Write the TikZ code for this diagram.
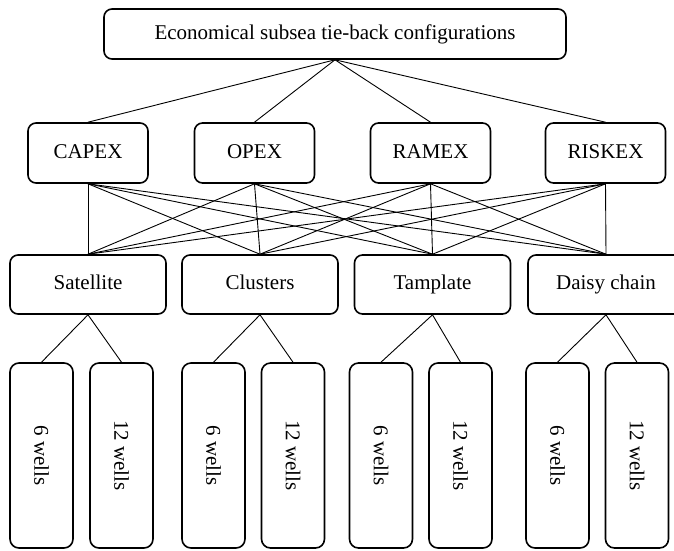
\documentclass[tikz,border=0pt]{standalone}
\usepackage{fontspec}
\setmainfont{Liberation Serif}
\begin{document}
\begin{tikzpicture}[x=1pt,y=-1pt,
  every node/.style={font=\fontsize{21}{25}\selectfont},
  lvl/.style={draw,rounded corners=8pt,line width=1.6pt,inner sep=0pt,text height=14pt,text depth=4pt},
  cost/.style={lvl,minimum width=120pt,minimum height=60pt},
  layout/.style={lvl,minimum width=156pt,minimum height=59pt},
  wells/.style={lvl,minimum width=63pt,minimum height=185pt,rounded corners=9pt,text height=,text depth=},
  link/.style={line width=0.9pt}]
\useasboundingbox (0,0) rectangle (674,550);
% top level
\node[lvl,minimum width=462pt,minimum height=50pt] (top) at (335,34) {Economical subsea tie-back configurations};
% cost criteria
\node[cost] (capex) at (88,153) {CAPEX};\node[cost] (opex) at (254.5,153) {OPEX};
\node[cost] (ramex) at (430.5,153) {RAMEX};\node[cost] (riskex) at (605.5,153) {RISKEX};
% configurations
\node[layout] (sat) at (88,284.5) {Satellite};\node[layout] (clu) at (260,284.5) {Clusters};
\node[layout] (tmp) at (432.5,284.5) {Tamplate};\node[layout] (dsy) at (606,284.5) {Daisy chain};
% number of wells
\node[wells] (sat6) at (41.5,455.5) {\rotatebox{-90}{6 wells}};\node[wells] (sat12) at (121.5,455.5) {\rotatebox{-90}{12 wells}};
\node[wells] (clu6) at (213.5,455.5) {\rotatebox{-90}{6 wells}};\node[wells] (clu12) at (293,455.5) {\rotatebox{-90}{12 wells}};
\node[wells] (tmp6) at (381,455.5) {\rotatebox{-90}{6 wells}};\node[wells] (tmp12) at (460.5,455.5) {\rotatebox{-90}{12 wells}};
\node[wells] (dsy6) at (557.5,455.5) {\rotatebox{-90}{6 wells}};\node[wells] (dsy12) at (637,455.5) {\rotatebox{-90}{12 wells}};
% links
\draw[link] (top.south)--(capex.north);\draw[link] (top.south)--(opex.north);
\draw[link] (top.south)--(ramex.north);\draw[link] (top.south)--(riskex.north);
\draw[link] (capex.south)--(sat.north);\draw[link] (capex.south)--(clu.north);\draw[link] (capex.south)--(tmp.north);\draw[link] (capex.south)--(dsy.north);
\draw[link] (opex.south)--(sat.north);\draw[link] (opex.south)--(clu.north);\draw[link] (opex.south)--(tmp.north);\draw[link] (opex.south)--(dsy.north);
\draw[link] (ramex.south)--(sat.north);\draw[link] (ramex.south)--(clu.north);\draw[link] (ramex.south)--(tmp.north);\draw[link] (ramex.south)--(dsy.north);
\draw[link] (riskex.south)--(sat.north);\draw[link] (riskex.south)--(clu.north);\draw[link] (riskex.south)--(tmp.north);\draw[link] (riskex.south)--(dsy.north);
\draw[link] (sat.south)--(sat6.north);\draw[link] (sat.south)--(sat12.north);
\draw[link] (clu.south)--(clu6.north);\draw[link] (clu.south)--(clu12.north);
\draw[link] (tmp.south)--(tmp6.north);\draw[link] (tmp.south)--(tmp12.north);
\draw[link] (dsy.south)--(dsy6.north);\draw[link] (dsy.south)--(dsy12.north);
\end{tikzpicture}
\end{document}
